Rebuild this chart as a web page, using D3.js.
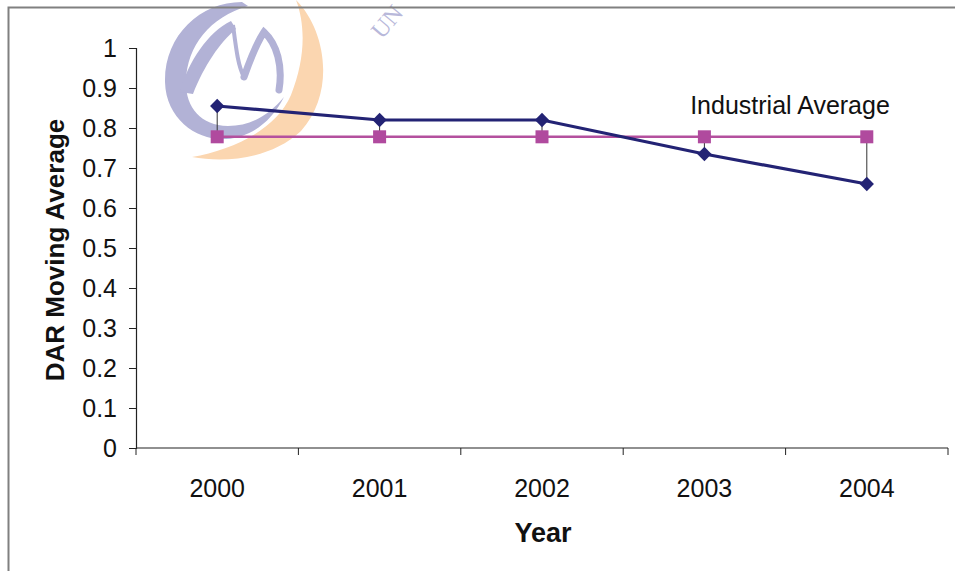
<!DOCTYPE html>
<html>
<head>
<meta charset="utf-8">
<script src="https://cdn.jsdelivr.net/npm/d3@7"></script>
<style>
  html, body { margin: 0; padding: 0; background: #fff; }
  svg { display: block; font-family: "Liberation Sans", Arial, sans-serif; }
</style>
</head>
<body>
<svg id="chart" width="955" height="571"></svg>
<script>
// Chart data
const years = ["2000", "2001", "2002", "2003", "2004"];
const darValues = [0.855, 0.82, 0.82, 0.735, 0.66];
const industryValues = [0.778, 0.778, 0.778, 0.778, 0.778];
const yTicks = [0, 0.1, 0.2, 0.3, 0.4, 0.5, 0.6, 0.7, 0.8, 0.9, 1];

const svg = d3.select("#chart");
const W = 955, H = 571;
const m = { left: 136, right: 7, top: 48, bottom: 123 };

// Faint watermark logo behind the plot
const wm = svg.append("g");
const purple = "#b2b2d6";
wm.append("path")
  .attr("d", "M296,0 C326,30 336,92 301,131 C271,159 226,163 192,157 C232,150 276,130 291,95 C305,60 306,26 296,0 Z")
  .attr("fill", "#fbd6b0");
wm.append("path")
  .attr("d", "M242,2 C200,2 164,36 165,82 C166,120 198,141 226,139 C252,137 272,121 284,97 C268,116 250,126 228,126 C200,126 185,106 186,81 C187,46 210,17 248,6 Z")
  .attr("fill", purple);
// inner swirl: thick rising arm, thin descent, curved right arm
wm.append("path")
  .attr("d", "M180,92 C188,62 208,32 231,21 L236,29 C220,42 204,66 193,94 Z")
  .attr("fill", purple);
wm.append("path")
  .attr("d", "M233,25 C236,48 238,66 244,77")
  .attr("fill", "none").attr("stroke", purple).attr("stroke-width", 4);
wm.append("path")
  .attr("d", "M244,77 C250,60 256,44 264,32 C277,44 283,66 279,90")
  .attr("fill", "none").attr("stroke", purple).attr("stroke-width", 7).attr("stroke-linecap", "round");
wm.append("text")
  .attr("transform", "translate(382,40) rotate(-50)")
  .attr("font-size", 24).attr("fill", "#b8b8da").attr("font-family", "Liberation Serif, serif")
  .text("UN");

// Outer frame (top and left edges)
svg.append("path")
  .attr("d", `M8.5,${H} L8.5,7.5 L${W},7.5`)
  .attr("fill", "none").attr("stroke", "#808080").attr("stroke-width", 2);

const x = d3.scaleBand().domain(years).range([m.left, W - m.right]).padding(0);
const y = d3.scaleLinear().domain([0, 1]).range([H - m.bottom, m.top]);

// Y axis
const yAxis = svg.append("g")
  .attr("transform", `translate(${m.left},0)`)
  .call(d3.axisLeft(y).tickValues(yTicks).tickSize(7).tickPadding(12)
    .tickFormat(d => d === 0 || d === 1 ? d3.format("d")(d) : d3.format(".1f")(d)));
yAxis.select(".domain").attr("stroke", "#222").attr("stroke-width", 1.2);
yAxis.selectAll(".tick line").attr("stroke", "#222");
yAxis.selectAll(".tick text").attr("font-size", 25).attr("fill", "#111");

// X axis (ticks at category boundaries)
const xAxis = svg.append("g")
  .attr("transform", `translate(0,${y(0)})`);
xAxis.append("line")
  .attr("x1", m.left).attr("x2", W - m.right)
  .attr("stroke", "#222").attr("stroke-width", 1.2);
const bounds = years.map(d => x(d)).concat([x(years[years.length - 1]) + x.bandwidth()]);
xAxis.selectAll("line.tk").data(bounds).join("line").attr("class", "tk")
  .attr("x1", d => d).attr("x2", d => d).attr("y1", 0).attr("y2", 7)
  .attr("stroke", "#222");
xAxis.selectAll("text").data(years).join("text")
  .attr("x", d => x(d) + x.bandwidth() / 2).attr("y", 49)
  .attr("text-anchor", "middle").attr("font-size", 25).attr("fill", "#111")
  .text(d => d);

// Axis titles
svg.append("text")
  .attr("transform", `translate(64,250) rotate(-90)`)
  .attr("text-anchor", "middle").attr("font-size", 26).attr("font-weight", "bold").attr("fill", "#111")
  .text("DAR Moving Average");
svg.append("text")
  .attr("x", 543).attr("y", 542)
  .attr("text-anchor", "middle").attr("font-size", 27).attr("font-weight", "bold").attr("fill", "#111")
  .text("Year");

const cx = d => x(d) + x.bandwidth() / 2;

// High-low drop lines between the two series
svg.append("g").selectAll("line").data(years).join("line")
  .attr("x1", cx).attr("x2", cx)
  .attr("y1", (d, i) => y(darValues[i])).attr("y2", (d, i) => y(industryValues[i]))
  .attr("stroke", "#333").attr("stroke-width", 1);

// Industrial average series
svg.append("path")
  .datum(industryValues)
  .attr("d", d3.line().x((d, i) => cx(years[i])).y(d => y(d)))
  .attr("fill", "none").attr("stroke", "#b4509e").attr("stroke-width", 2.5);
svg.append("g").selectAll("rect").data(industryValues).join("rect")
  .attr("x", (d, i) => cx(years[i]) - 6.5).attr("y", d => y(d) - 6.5)
  .attr("width", 13).attr("height", 13).attr("fill", "#b04a9e");

// DAR series
svg.append("path")
  .datum(darValues)
  .attr("d", d3.line().x((d, i) => cx(years[i])).y(d => y(d)))
  .attr("fill", "none").attr("stroke", "#232374").attr("stroke-width", 3.2);
svg.append("g").selectAll("path.dm").data(darValues).join("path").attr("class", "dm")
  .attr("transform", (d, i) => `translate(${cx(years[i])},${y(d)})`)
  .attr("d", d3.symbol().type(d3.symbolDiamond2).size(130))
  .attr("fill", "#232374");

// Series label
svg.append("text")
  .attr("x", 790).attr("y", 114)
  .attr("text-anchor", "middle").attr("font-size", 25).attr("fill", "#111")
  .text("Industrial Average");
</script>
</body>
</html>
